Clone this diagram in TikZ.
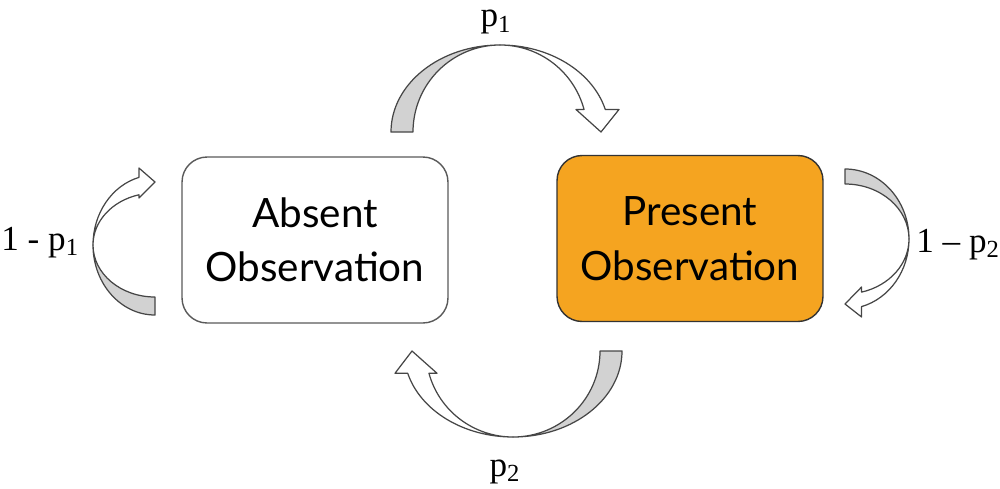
\documentclass[tikz,border=0pt]{standalone}
\usepackage{fontspec}
\setmainfont{Liberation Serif}
\newfontfamily\boxfont{Lato}
\usepackage{xcolor}

\definecolor{presentorange}{RGB}{245,164,32}
\definecolor{ribbongray}{RGB}{210,210,210}
\definecolor{edgegray}{RGB}{70,70,70}

\begin{document}
\begin{tikzpicture}[x=0.02cm, y=0.02cm,
    state/.style={draw, rounded corners=0.5cm, minimum width=5.32cm, minimum height=3.32cm,
        align=center, line width=0.8pt, font=\boxfont\fontsize{23}{31}\selectfont},
    ribbon/.style={draw=edgegray, line width=0.7pt, line join=round},
    prob/.style={inner sep=0pt, font=\fontsize{20}{24}\selectfont}]
    \useasboundingbox (0,0) rectangle (1000,488);

    % States
    \node[state, draw=edgegray!90] (absent) at (315,248) {Absent\\Observation};
    \node[state, draw=black!80, fill=presentorange] (present) at (690,249.5) {Present\\Observation};

    % Curved arrows: centre/rotation/inner/bulge/width/wing in/wing out/tip
    \foreach \cx/\cy/\rot/\a/\b/\w/\wi/\wo/\tip in {
        500/356/0/87/87/22/76/119/101,
        513/137/180/87/86/22/76/118/101,
        155/243/90/52/62/18/47/77/63,
        845/249/-90/55/64/15/48/78/65}
    {
        \pgfmathsetmacro\ro{\a+\w}
        \pgfmathsetmacro\by{\b*0.2588}
        \begin{scope}[shift={(\cx,\cy)}, rotate=\rot]
            \filldraw[ribbon, fill=ribbongray] (-\ro,0)
                arc[start angle=180, end angle=90, x radius=\ro, y radius=\b]
                arc[start angle=90, end angle=180, x radius=\a, y radius=\b] -- cycle;
            \filldraw[ribbon, fill=white] (0,\b)
                arc[start angle=90, end angle=15, x radius=\ro, y radius=\b]
                -- (\wo,\by) -- (\tip,0) -- (\wi,\by) -- ({\a*0.9659},\by)
                arc[start angle=15, end angle=90, x radius=\a, y radius=\b] -- cycle;
        \end{scope}
    }

    % Probabilities
    \node[prob, anchor=base] (pone) at (496,461) {p\textsubscript{1}};
    \node[prob, anchor=base] (ptwo) at (505,12) {p\textsubscript{2}};
    \node[prob, anchor=base west] (stayabsent) at (1,238) {1 - p\textsubscript{1}};
    \node[prob, anchor=base west] (staypresent) at (916,236) {1 -- p\textsubscript{2}};
\end{tikzpicture}
\end{document}
